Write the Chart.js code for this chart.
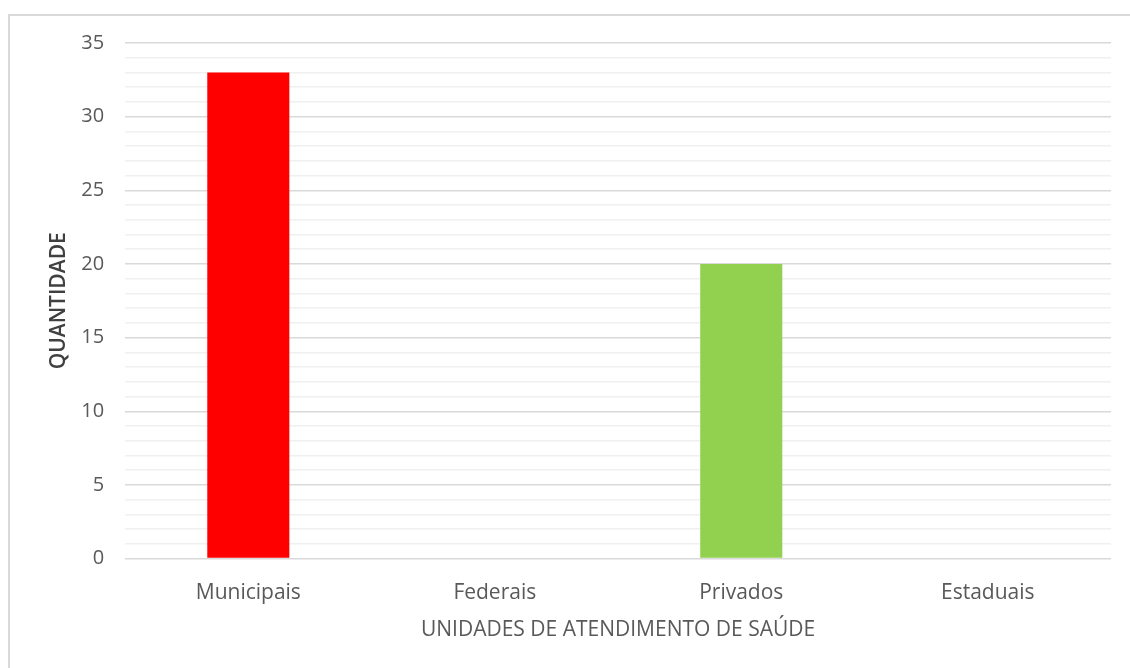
<!DOCTYPE html>
<html>
<head>
<meta charset="utf-8">
<script src="https://cdn.jsdelivr.net/npm/chart.js@4"></script>
<style>
  html, body { margin: 0; padding: 0; background: #fff; }
  .wrap { position: relative; width: 1130px; height: 668px; overflow: hidden; }
  .frame { position: absolute; left: 8px; top: 14px; width: 1200px; height: 700px;
           border-left: 2px solid #d9d9d9; border-top: 2px solid #d9d9d9; }
  canvas { position: absolute; left: 0; top: 0; }
</style>
</head>
<body>
<div class="wrap">
  <div class="frame"></div>
  <canvas id="chart" width="1130" height="668"></canvas>
</div>
<script>
// Data
const categories = ['Municipais', 'Federais', 'Privados', 'Estaduais'];
const quantidades = [33, 0, 20, 0];
const barColors = ['#ff0000', '#ff0000', '#92d050', '#92d050'];
const yMax = 35;
const xTitle = 'UNIDADES DE ATENDIMENTO DE SAÚDE';
const yTitle = 'QUANTIDADE';

const FONT = '"Open Sans", Lato, sans-serif';

new Chart(document.getElementById('chart'), {
  type: 'bar',
  data: {
    labels: categories,
    datasets: [{
      label: yTitle,
      data: quantidades,
      backgroundColor: barColors,
      barPercentage: 0.333,
      categoryPercentage: 1
    }]
  },
  options: {
    responsive: false,
    animation: false,
    layout: { padding: { left: 46, right: 19, top: 43, bottom: 25 } },
    plugins: {
      legend: { display: false },
      tooltip: { enabled: false }
    },
    scales: {
      x: {
        grid: { display: false, drawTicks: false },
        border: { display: false },
        ticks: { color: '#595959', font: { family: FONT, size: 21 }, padding: 22 },
        title: {
          display: true,
          text: xTitle,
          color: '#595959',
          font: { family: FONT, size: 21 },
          padding: { top: -10, bottom: 0 }
        }
      },
      y: {
        min: 0,
        max: yMax,
        grid: {
          drawTicks: false,
          lineWidth: 1.5,
          color: ctx => (ctx.tick.value % 5 === 0 ? '#d9d9d9' : '#f0f0f0')
        },
        border: { display: false },
        ticks: {
          stepSize: 1,
          autoSkip: false,
          color: '#595959',
          font: { family: FONT, size: 20 },
          padding: 21,
          callback: v => (v % 5 === 0 ? v : '')
        },
        title: {
          display: true,
          text: yTitle,
          color: '#404040',
          font: { family: FONT, size: 21, weight: '600' },
          padding: { top: 0, bottom: -11 }
        }
      }
    }
  }
});
</script>
</body>
</html>
